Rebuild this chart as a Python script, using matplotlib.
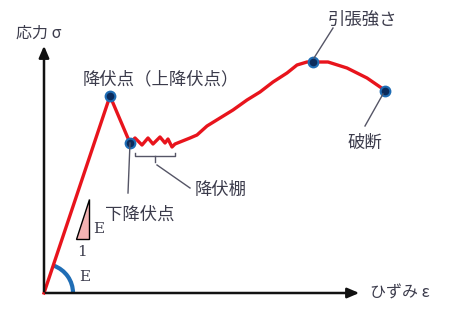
import matplotlib.pyplot as plt
from matplotlib.patches import Arc, Polygon

plt.rcParams['font.family'] = ['Noto Sans CJK JP', 'DejaVu Sans']

# stress-strain curve (arbitrary units, origin at lower left)
strain = [0, 66, 86, 91, 98, 104, 109, 116, 121, 124, 128, 131, 146, 153, 163,
          176, 189, 203, 216, 229, 243, 253, 263, 269, 284, 303, 323, 339, 341]
stress = [0, 197, 150, 155, 148, 155, 149, 156, 150, 154, 146, 149, 155, 158, 167,
          175, 183, 193, 201, 211, 220, 228, 231, 231, 231, 225, 215, 204, 202]

# marked points: upper yield, lower yield, tensile strength, fracture
pt_strain = [66, 86, 269, 341]
pt_stress = [197, 150, 231, 202]

txt = '#3c3c4c'
red = '#e8141c'
blue = '#1f6db5'

fig = plt.figure(figsize=(4.74, 3.2), dpi=100)
ax = fig.add_axes([0, 0, 1, 1])
ax.set_xlim(-44, 430)
ax.set_ylim(-27, 293)
ax.axis('off')

# axes with arrows
ax.annotate('', xy=(0, 250), xytext=(0, -1),
            arrowprops=dict(arrowstyle='-|>,head_length=0.7,head_width=0.3', color='#111111', lw=1.8))
ax.annotate('', xy=(318, 0), xytext=(-1, 0),
            arrowprops=dict(arrowstyle='-|>,head_length=0.7,head_width=0.3', color='#111111', lw=1.8))
ax.text(-28, 260, '応力 σ', fontsize=11.5, color=txt, va='center', ha='left')
ax.text(326, 0, 'ひずみ ε', fontsize=11.5, color=txt, va='center', ha='left')

# modulus arc
ax.add_patch(Arc((0, 0), 58, 58, theta1=0, theta2=70, color=blue, lw=3))
ax.text(35, 16, 'E', fontsize=11, color=txt, family='DejaVu Serif', va='center')

# slope triangle
ax.add_patch(Polygon([(32, 54), (45, 54), (45, 94)], closed=True,
                     facecolor='#f4b3b3', edgecolor='black', lw=1))
ax.text(49, 64, 'E', fontsize=11, color=txt, family='DejaVu Serif', va='center')
ax.text(38, 41, '1', fontsize=11, color=txt, family='DejaVu Serif', va='center', ha='center')

ax.plot(strain, stress, color=red, lw=2.4, solid_joinstyle='round')
ax.plot(pt_strain, pt_stress, 'o', ms=7, color='#0b2b5c', mec=blue, mew=1.5)

# labels and leaders
ax.text(39, 214, '降伏点（上降伏点）', fontsize=12.5, color=txt, va='center', ha='left')
ax.text(284, 273, '引張強さ', fontsize=12.5, color=txt, va='center', ha='left')
ax.plot([289, 270], [265, 235], color='#555566', lw=1)
ax.text(304, 150, '破断', fontsize=12.5, color=txt, va='center', ha='left')
ax.plot([321, 339], [167, 199], color='#555566', lw=1)
ax.text(61, 78, '下降伏点', fontsize=12.5, color=txt, va='center', ha='left')
ax.plot([86, 84], [150, 100], color='#555566', lw=1)

# bracket under yield plateau
ax.plot([91, 91, 131, 131], [140, 137, 137, 140], color='#555566', lw=1)
ax.plot([111, 111], [137, 131], color='#555566', lw=1)
ax.plot([113, 146], [128, 105], color='#555566', lw=1)
ax.text(151, 103, '降伏棚', fontsize=12.5, color=txt, va='center', ha='left')

fig.savefig('out.png', dpi=100)
